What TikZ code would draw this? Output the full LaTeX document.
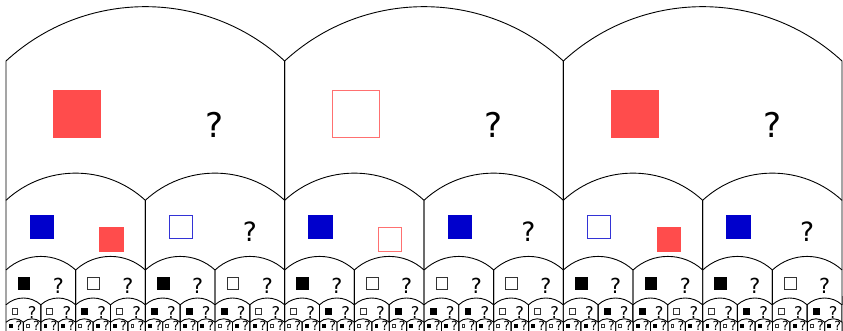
\documentclass[tikz,border=0pt]{standalone}
\usepackage{fontspec}
\newfontfamily\qfont{DejaVu Sans}
\definecolor{boxred}{RGB}{255,76,76}
\definecolor{boxblue}{RGB}{0,0,204}
\tikzset{
  qm/.style={inner sep=0pt, font=\qfont\fontsize{#1}{#1}\selectfont},
  sqF/.style={fill=#1, draw=#1, line width=0.5pt},
  sqO/.style={fill=white, draw=#1!80!white, line width=0.8pt},
}
% left, top of sides, width, bottom of sides
\newcommand{\archcell}[4]{%
  \draw ({#1},#4) -- ({#1},#2) arc[start angle=132.61, end angle=47.39, radius={0.73853*#3}] -- ({#1+#3},#4);}
% style, left, top, width
\newcommand{\leftsq}[4]{%
  \filldraw[#1] ({#2+0.171*#4},{#3-0.274*#4}) rectangle ++({0.168*#4},{0.168*#4});}
\newcommand{\rightsq}[4]{%
  \filldraw[#1] ({#2+0.671*#4},{#3-0.364*#4}) rectangle ++({0.168*#4},{0.168*#4});}
% font size, left, top, width
\newcommand{\qmark}[4]{%
  \draw ({#2+0.75*#4},{#3-0.228*#4}) node[qm=#1]{?};}

\begin{document}
\begin{tikzpicture}[x=1pt, y=1pt, line width=0.9pt]
    \useasboundingbox (0,0) rectangle (843,331);
    \clip (0,0) rectangle (843,331);

    \foreach \w/\ytop/\ybot/\n in {278.67/270/130.7/3, 139.33/130.7/61/6,
        69.67/61/26.2/12, 34.83/26.2/8.8/24, 17.42/8.8/-2/48}{
      \foreach \i in {1,...,\n}{
        \pgfmathsetmacro{\xo}{6+(\i-1)*\w}
        \archcell{\xo}{\ytop}{\w}{\ybot}
      }
    }

    % first row
    \foreach \lf [count=\i from 0] in {F,O,F}{
      \pgfmathsetmacro{\xo}{6+\i*278.67}
      \leftsq{sq\lf=boxred}{\xo}{270}{278.67}
      \qmark{34}{\xo}{270}{278.67}
    }

    % second row
    \foreach \lf/\rt [count=\i from 0] in {F/F,O/Q,F/O,F/Q,O/F,F/Q}{
      \pgfmathsetmacro{\xo}{6+\i*139.33}
      \leftsq{sq\lf=boxblue}{\xo}{130.7}{139.33}
      \if\rt Q\qmark{26.5}{\xo}{130.7}{139.33}\else\rightsq{sq\rt=boxred}{\xo}{130.7}{139.33}\fi
    }

    \foreach \lf [count=\i from 0] in {F,O,F,O,F,O,O,O,F,F,F,O}{
      \pgfmathsetmacro{\xo}{6+\i*69.67}
      \leftsq{sq\lf=black}{\xo}{61}{69.67}
      \qmark{20.7}{\xo}{61}{69.67}
    }

    \foreach \lf [count=\i from 0] in {O,O,F,O,F,F,F,O,O,F,O,F,F,F,O,O,O,F,F,O,O,F,O,F}{
      \pgfmathsetmacro{\xo}{6+\i*34.83}
      \leftsq{sq\lf=black}{\xo}{26.2}{34.83}
      \qmark{16.2}{\xo}{26.2}{34.83}
    }

    \foreach \lf [count=\i from 0] in {F,O,F,F,O,F,F,O,F,O,F,F,O,F,F,O,
        O,F,F,F,O,F,O,F,F,F,O,F,O,F,F,O,F,F,O,O,F,F,O,F,F,O,F,F,O,F,O,F}{
      \pgfmathsetmacro{\xo}{6+\i*17.42}
      \leftsq{sq\lf=black}{\xo}{8.8}{17.42}
      \qmark{12.6}{\xo}{8.8}{17.42}
    }
\end{tikzpicture}
\end{document}
